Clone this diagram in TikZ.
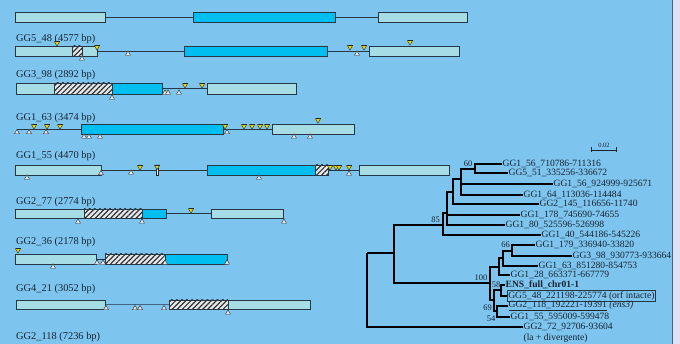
\documentclass[tikz,border=0pt]{standalone}
\usepackage{fontspec}
\setmainfont{Liberation Serif}
\usetikzlibrary{patterns.meta}
\definecolor{bg}{RGB}{125,197,238}
\definecolor{exl}{RGB}{166,221,229}
\definecolor{exd}{RGB}{0,190,240}
\definecolor{outl}{RGB}{35,55,70}
\definecolor{txt}{RGB}{25,35,50}
\definecolor{strip}{RGB}{221,226,240}
\definecolor{stripline}{RGB}{70,100,130}
\definecolor{ymk}{RGB}{235,215,0}
\definecolor{gmk}{RGB}{228,232,238}
\definecolor{hbg}{RGB}{232,234,238}
\tikzset{
  exbox/.style={draw=outl,line width=0.7pt},
  intr/.style={draw=outl,line width=0.6pt},
  mk/.style={draw=black!85,line width=0.4pt},
  glabel/.style={anchor=base west,inner sep=0pt,text=txt,font=\fontsize{10.4}{12}\selectfont},
  leaf/.style={anchor=west,inner sep=0.4pt,text=txt,font=\fontsize{9.6}{11}\selectfont},
  boot/.style={inner sep=0pt,text=txt,font=\fontsize{8.5}{10}\selectfont},
  tr/.style={draw=black,line width=1.6pt,line join=miter}
}
\newcommand{\exL}[4]{\draw[exbox,fill=exl] (#1,#3) rectangle (#2,#4);}
\newcommand{\exD}[4]{\draw[exbox,fill=exd] (#1,#3) rectangle (#2,#4);}
\newcommand{\exH}[4]{\fill[hbg] (#1,#3) rectangle (#2,#4);
  \fill[pattern={Lines[angle=45,distance=3.6pt,line width=1.2pt]},pattern color=black!80] (#1,#3) rectangle (#2,#4);
  \draw[exbox] (#1,#3) rectangle (#2,#4);}
\newcommand{\intron}[3]{\draw[intr] (#1,#3) -- (#2,#3);}
\newcommand{\ym}[2]{\filldraw[mk,fill=ymk] ({#1-2.5},{#2-2.3}) -- ({#1+2.5},{#2-2.3}) -- ({#1},{#2+2.2}) -- cycle;
  \draw[black!85,line width=0.9pt] ({#1-2.5},{#2-2.3}) -- ({#1+2.5},{#2-2.3});}
\newcommand{\gm}[2]{\filldraw[mk,fill=gmk] ({#1-2.5},{#2+2.3}) -- ({#1+2.5},{#2+2.3}) -- ({#1},{#2-2.2}) -- cycle;}
\begin{document}
\begin{tikzpicture}[x=1pt,y=-1pt]
\useasboundingbox (0,0) rectangle (680,344);
\fill[bg] (0,0) rectangle (680,344);
\fill[strip] (673,0) rectangle (680,344);
\draw[stripline,line width=1pt] (672.5,0) -- (672.5,344);

% row 0
\intron{105}{193}{17}\intron{335}{378}{17}
\exL{15}{105}{12}{22}\exD{193}{335}{12}{22}\exL{378}{467}{12}{22}

% row 1 GG5_48
\node[glabel] (g1) at (16,41.5) {GG5\_48 (4577 bp)};
\intron{97}{184}{51}\intron{327}{369}{51}
\exL{15}{97}{46}{56}\exH{72}{82}{46}{56}
\exD{184}{327}{46}{56}\exL{369}{459}{46}{56}
\ym{57}{44}\ym{97}{48}\gm{82}{58}\gm{128}{53}
\ym{350}{48}\ym{364}{48}\gm{357}{53}\ym{410}{43}

% row 2 GG3_98
\node[glabel] (g2) at (16,77.5) {GG3\_98 (2892 bp)};
\intron{162}{207}{88.5}
\exL{16}{54}{83}{94}\exH{54}{112}{83}{94}\exD{112}{162}{83}{94}\exL{207}{296}{83}{94}
\gm{112}{97}\gm{165}{92}\gm{168}{92}\gm{179}{92}\ym{185}{86}\ym{202}{86}

% row 3 GG1_63
\node[glabel] (g3) at (16,120.5) {GG1\_63 (3474 bp)};
\intron{17}{81}{129}\intron{223}{272}{129}
\exD{81}{223}{124}{134}\exL{272}{354}{124}{134}
\gm{17}{131.5}\gm{29}{131.5}\gm{46}{131.5}
\ym{34}{127}\ym{47}{127}\ym{60}{127}
\gm{84}{136}\gm{89}{136}\gm{100}{136}
\ym{225}{127}\gm{227}{131.5}
\ym{244}{127}\ym{252}{127}\ym{260}{127}\ym{267}{127}
\ym{318}{121}\gm{294}{136}\gm{310}{136}

% row 4 GG1_55
\node[glabel] (g4) at (16,158.5) {GG1\_55 (4470 bp)};
\intron{101}{207}{170}\intron{328}{359}{170}
\exL{15}{101}{165}{175}\exD{207}{315}{165}{175}\exH{315}{328}{165}{175}\exL{359}{449}{165}{175}
\gm{27}{177}\gm{101}{172.5}\gm{131}{172}\ym{140}{168}
\filldraw[mk,fill=white] (156,168) rectangle (158,175);\ym{157}{167.5}
\gm{259}{177}\ym{330}{168}\ym{336}{168}\ym{339}{168}\ym{349}{168}\gm{349}{173}

% row 5 GG2_77
\node[glabel] (g5) at (16,204.5) {GG2\_77 (2774 bp)};
\intron{166}{211}{213.5}
\exL{15}{84}{209}{218}\exH{84}{142}{209}{218}\exD{142}{166}{209}{218}\exL{211}{283}{209}{218}
\gm{78}{221}\gm{142}{221}\ym{191}{211}\gm{284}{221}

% row 6 GG2_36
\node[glabel] (g6) at (16,244.5) {GG2\_36 (2178 bp)};
\intron{96}{105}{259}
\exL{15}{96}{254}{264}\exH{105}{165}{254}{264}\exD{165}{227}{254}{264}
\ym{18}{251}\gm{53}{266}\gm{97}{262}\gm{103}{262}\gm{165}{262}\gm{227}{262}

% row 7 GG4_21
\node[glabel] (g7) at (16,291.5) {GG4\_21 (3052 bp)};
\draw[draw=stripline,line width=1.3pt] (105,304.5) -- (169,304.5);
\exL{16}{105}{300}{309}\exH{169}{228}{300}{309}\exL{228}{310}{300}{309}
\gm{106}{307.5}\gm{135}{307.5}\gm{140}{307.5}\gm{164}{307.5}\gm{228}{312}

% row 8
\node[glabel] (g8) at (16,339.5) {GG2\_118 (7236 bp)};

% scale bar
\coordinate (sb1) at (591,150);
\coordinate (sb2) at (616,150);
\draw[txt,line width=0.6pt] (sb1) -- (sb2);
\draw[txt,line width=0.6pt] (591,147.5) -- (591,152.5) (616,147.5) -- (616,152.5);
\node[inner sep=0pt,text=txt,font=\fontsize{6.5}{7}\selectfont] (sbl) at (604,145) {0.02};

% tree leaves
\node[leaf] (l1) at (502,164) {GG1\_56\_710786-711316};
\node[leaf] (l2) at (508,173) {GG5\_51\_335256-336672};
\node[leaf] (l3) at (553,184) {GG1\_56\_924999-925671};
\node[leaf] (l4) at (523,195) {GG1\_64\_113036-114484};
\node[leaf] (l5) at (539,204) {GG2\_145\_116656-11740};
\node[leaf] (l6) at (520,215) {GG1\_178\_745690-74655};
\node[leaf] (l7) at (505,225) {GG1\_80\_525596-526998};
\node[leaf] (l8) at (541,235) {GG1\_40\_544186-545226};
\node[leaf] (l9) at (535,245) {GG1\_179\_336940-33820};
\node[leaf] (l10) at (572,256) {GG3\_98\_930773-933664};
\node[leaf] (l11) at (538,266) {GG1\_63\_851280-854753};
\node[leaf] (l12) at (510,275) {GG1\_28\_663371-667779};
\node[leaf,font=\fontsize{9.6}{11}\selectfont\bfseries] (l13) at (505,285) {ENS\_full\_chr01-1};
\node[leaf,draw=outl,line width=0.6pt,inner sep=1pt] (l14) at (507,296) {GG5\_48\_221198-225774 (orf intacte)};
\node[leaf] (l15) at (508,306) {\underline{GG2\_118\_192221-19391} \textit{(ens3)}};
\node[leaf] (l16) at (510,317) {GG1\_55\_595009-599478};
\node[leaf] (l17) at (523,327) {GG2\_72\_92706-93604};
\node[leaf] (l18) at (523,338) {(la + divergente)};

% internal nodes
\coordinate (R) at (367,253);
\coordinate (N1) at (394,253);
\coordinate (N85) at (443,225);
\coordinate (NB) at (447,213);
\coordinate (NC) at (453,192);
\coordinate (ND) at (461,179);
\coordinate (N60) at (475,169);
\coordinate (N100) at (490,283);
\coordinate (NA) at (499,267);
\coordinate (NA2) at (503,258);
\coordinate (N66) at (512,251);
\coordinate (N69) at (494,300);
\coordinate (N58) at (501,290);
\coordinate (N54) at (497,311);

\draw[tr] (R) -- (N1);
\draw[tr] (R) |- (l17.west);
\draw[tr] (N1) |- (N85);
\draw[tr] (N1) |- (N100);
\draw[tr] (N85) |- (NB);
\draw[tr] (N85) |- (l8.west);
\draw[tr] (NB) |- (NC);
\draw[tr] (NB) |- (l6.west);
\draw[tr] (NB) |- (l7.west);
\draw[tr] (NC) |- (ND);
\draw[tr] (NC) |- (l5.west);
\draw[tr] (ND) |- (N60);
\draw[tr] (ND) |- (l3.west);
\draw[tr] (ND) |- (l4.west);
\draw[tr] (N60) |- (l1.west);
\draw[tr] (N60) |- (l2.west);
\draw[tr] (N100) |- (NA);
\draw[tr] (N100) |- (N69);
\draw[tr] (NA) |- (NA2);
\draw[tr] (NA) |- (l12.west);
\draw[tr] (NA2) |- (N66);
\draw[tr] (NA2) |- (l11.west);
\draw[tr] (N66) |- (l9.west);
\draw[tr] (N66) |- (l10.west);
\draw[tr] (N69) |- (N58);
\draw[tr] (N69) |- (N54);
\draw[tr] (N58) |- (l13.west);
\draw[tr] (N58) |- (l14.west);
\draw[tr] (N54) |- (l15.west);
\draw[tr] (N54) |- (l16.west);

% bootstrap values
\node[boot] (b60) at (468,164) {60};
\node[boot] (b85) at (435.5,219.5) {85};
\node[boot] (b100) at (481,278) {100};
\node[boot] (b66) at (505.5,245) {66};
\node[boot] (b58) at (496,285) {58};
\node[boot] (b69) at (487.5,308) {69};
\node[boot] (b54) at (491,319) {54};
\end{tikzpicture}
\end{document}
